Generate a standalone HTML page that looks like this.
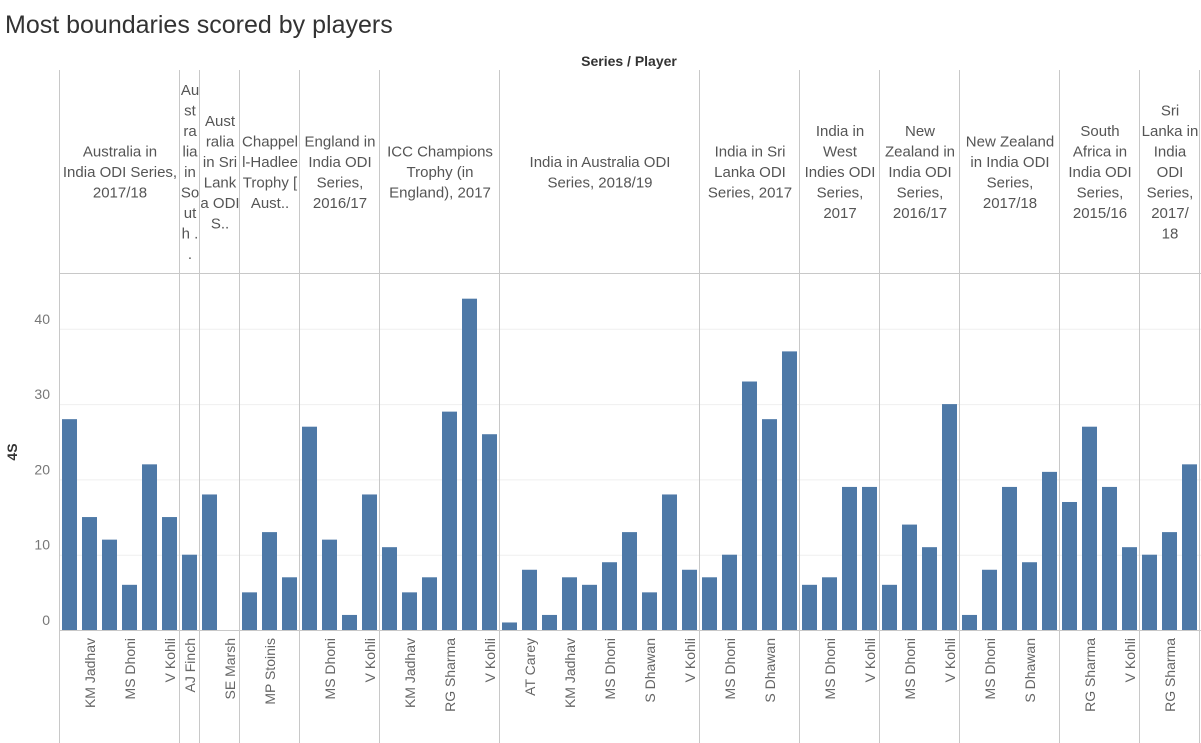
<!DOCTYPE html>
<html><head><meta charset="utf-8"><style>
html,body{margin:0;padding:0;background:#fff;width:1201px;height:743px;overflow:hidden}
svg{display:block;font-family:"Liberation Sans",sans-serif}
</style></head><body>
<svg id="chart" width="1201" height="743">
<text x="5" y="33" font-size="25" fill="#333" font-weight="300">Most boundaries scored by players</text>
<text x="629" y="66" font-size="14" font-weight="bold" fill="#333" text-anchor="middle">Series / Player</text>
<text transform="translate(17,452) rotate(-90)" font-size="14" font-weight="bold" fill="#333" text-anchor="middle">4S</text>
<g id="grid"></g><g id="bars"></g><g id="xl"></g><g id="hdr"></g>
<line x1="60" x2="1201" y1="273.5" y2="273.5" stroke="#c8c8c8"/>
<line x1="60" x2="1201" y1="630.5" y2="630.5" stroke="#c8c8c8"/>
</svg>
<script>
const series=["Australia in India ODI Series, 2017/18","Australia in South..","Australia in Sri Lanka ODI S..","Chappell-Hadlee Trophy [Aust..","England in India ODI Series, 2016/17","ICC Champions Trophy (in England), 2017","India in Australia ODI Series, 2018/19","India in Sri Lanka ODI Series, 2017","India in West Indies ODI Series, 2017","New Zealand in India ODI Series, 2016/17","New Zealand in India ODI Series, 2017/18","South Africa in India ODI Series, 2015/16","Sri Lanka in India ODI Series, 2017/18"];
const headerLines=[["Australia in","India ODI Series,","2017/18"],["Au","st","ra","lia","in","So","ut","h .","."],["Aust","ralia","in Sri","Lank","a ODI","S.."],["Chappel","l-Hadlee","Trophy [","Aust.."],["England in","India ODI","Series,","2016/17"],["ICC Champions","Trophy (in","England), 2017"],["India in Australia ODI","Series, 2018/19"],["India in Sri","Lanka ODI","Series, 2017"],["India in","West","Indies ODI","Series,","2017"],["New","Zealand in","India ODI","Series,","2016/17"],["New Zealand","in India ODI","Series,","2017/18"],["South","Africa in","India ODI","Series,","2015/16"],["Sri","Lanka in","India","ODI","Series,","2017/","18"]];
const values=[[28,15,12,6,22,15],[10],[18,0],[5,13,7],[27,12,2,18],[11,5,7,29,44,26],[1,8,2,7,6,9,13,5,18,8],[7,10,33,28,37],[6,7,19,19],[6,14,11,30],[2,8,19,9,21],[17,27,19,11],[10,13,22]];
const players=[["","KM Jadhav","","MS Dhoni","","V Kohli"],["AJ Finch"],["","SE Marsh"],["","MP Stoinis",""],["","MS Dhoni","","V Kohli"],["","KM Jadhav","","RG Sharma","","V Kohli"],["","AT Carey","","KM Jadhav","","MS Dhoni","","S Dhawan","","V Kohli"],["","MS Dhoni","","S Dhawan",""],["","MS Dhoni","","V Kohli"],["","MS Dhoni","","V Kohli"],["","MS Dhoni","","S Dhawan",""],["","RG Sharma","","V Kohli"],["","RG Sharma",""]];
const yTicks=[0,10,20,30,40];
const NS="http://www.w3.org/2000/svg";
const X0=60,SLOT=20,Y0=630,K=7.53;
const y=v=>Y0-v*K;
function mk(t,a,p){const e=document.createElementNS(NS,t);for(const k in a)e.setAttribute(k,a[k]);p.appendChild(e);return e;}
const grid=document.getElementById('grid'),bars=document.getElementById('bars'),xl=document.getElementById('xl'),hdr=document.getElementById('hdr');
yTicks.forEach(t=>{
 if(t>0){const g=mk('line',{x1:X0,x2:1201,y1:y(t)+.5,y2:y(t)+.5,stroke:'#efefef'},grid);
 
 }
 const tx=mk('text',{x:50,y:y(t)-5,'font-size':14,fill:'#777','text-anchor':'end'},grid);tx.textContent=t;
 
 
});
let idx=0;
values.forEach((vals,p)=>{
 const px=X0+idx*SLOT, w=vals.length*SLOT;
 const l=mk('line',{x1:px-.5,x2:px-.5,y1:70,y2:743,stroke:'#c8c8c8'},grid);
 
 
 const lines=headerLines[p],lh=20.5,cy=172-(lines.length-1)*lh/2;
 const ht=mk('text',{'font-size':15,fill:'#555','text-anchor':'middle'},hdr);
 
 
 lines.forEach((s,i)=>{const ts=mk('tspan',{x:px+w/2,y:cy+i*lh+5},ht);ts.textContent=s;});
 vals.forEach((v,i)=>{
  const bx=px+i*SLOT+2;
  const r=mk('rect',{x:bx,y:y(v),width:15,height:v*K,fill:'#4e79a7'},bars);
  
  
  const n=players[p][i];
  if(n){const cx=px+i*SLOT+10;
   const t=mk('text',{transform:`translate(${cx+5},638) rotate(-90)`,'font-size':14,fill:'#666','text-anchor':'end'},xl);
   t.textContent=n;
   
   }
 });
 idx+=vals.length;
});
const le=mk('line',{x1:1199.5,x2:1199.5,y1:70,y2:743,stroke:'#c8c8c8'},grid);


</script>
</body></html>
